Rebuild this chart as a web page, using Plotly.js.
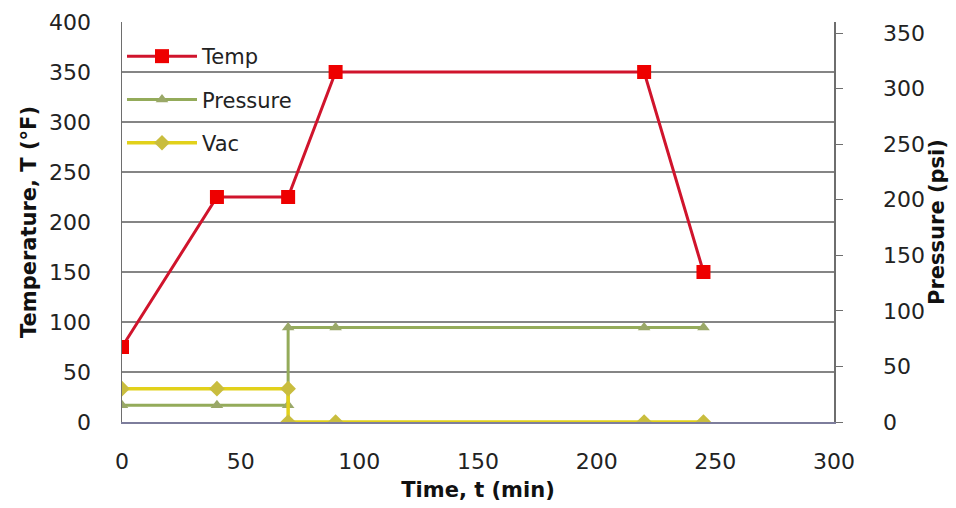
<!DOCTYPE html>
<html>
<head>
<meta charset="utf-8">
<script src="https://cdn.plot.ly/plotly-3.0.1.min.js"></script>
<style>html,body{margin:0;padding:0;background:#fff;}#chart{width:956px;height:508px;}</style>
</head>
<body>
<div id="chart"></div>
<script>
// Data
const tempTime = [0, 40, 70, 90, 220, 245];
const tempValues = [75, 225, 225, 350, 350, 150];

const pressureTime = [0, 40, 70, 70, 90, 220, 245];
const pressureValues = [15, 15, 15, 85, 85, 85, 85];

const vacTime = [0, 40, 70, 70, 90, 220, 245];
const vacValues = [30, 30, 30, 0, 0, 0, 0];

const xTickVals = [0, 50, 100, 150, 200, 250, 300];
const yTickVals = [0, 50, 100, 150, 200, 250, 300, 350, 400];
const y2TickVals = [0, 50, 100, 150, 200, 250, 300, 350];

const FONT = "DejaVu Sans, Verdana, sans-serif";

const traces = [
  {
    x: tempTime, y: tempValues, name: "Temp", type: "scatter", mode: "lines+markers",
    legendgroup: "a",
    line: {color: "#d0142c", width: 3},
    marker: {symbol: "square", size: 14, color: "#ee0000"}
  },
  {
    x: pressureTime, y: pressureValues, name: "Pressure", type: "scatter", mode: "lines+markers",
    yaxis: "y2", legendgroup: "b",
    line: {color: "#94ab5a", width: 3},
    marker: {symbol: "triangle-up", size: 11, color: "#9aa868"}
  },
  {
    x: vacTime, y: vacValues, name: "Vac", type: "scatter", mode: "lines+markers",
    yaxis: "y2", legendgroup: "c",
    line: {color: "#e2d11a", width: 3.5},
    marker: {symbol: "diamond", size: 12, color: "#c9bd3e"}
  }
];

const layout = {
  width: 956, height: 508,
  margin: {l: 122, r: 122, t: 22, b: 86},
  paper_bgcolor: "#ffffff", plot_bgcolor: "#ffffff",
  font: {family: FONT, color: "#222", size: 20},
  showlegend: true,
  legend: {
    x: 0.0, y: 0.965, xanchor: "left", yanchor: "top",
    bgcolor: "rgba(255,255,255,0)", borderwidth: 0,
    font: {family: FONT, size: 21, color: "#222"},
    itemwidth: 70,
    traceorder: "grouped", tracegroupgap: 13
  },
  xaxis: {
    range: [0, 300], tickvals: xTickVals, ticktext: xTickVals.map(String),
    showgrid: false, zeroline: false,
    showline: true, linecolor: "#7d7d9c", linewidth: 1.5,
    ticks: "", ticklabelstandoff: 19,
    tickfont: {family: FONT, size: 22, color: "#222"},
    title: {text: "<b>Time, t (min)</b>", font: {family: FONT, size: 21, color: "#111"}, standoff: 9}
  },
  yaxis: {
    range: [0, 400], tickvals: yTickVals, ticktext: yTickVals.map(String),
    showgrid: true, gridcolor: "#858585", gridwidth: 1.5,
    zeroline: false,
    showline: true, linecolor: "#6e6e6e", linewidth: 1.5,
    ticks: "", ticklabelstandoff: 25,
    tickfont: {family: FONT, size: 22, color: "#222"},
    title: {text: "<b>Temperature, T (°F)</b>", font: {family: FONT, size: 21, color: "#111"}, standoff: 6}
  },
  yaxis2: {
    overlaying: "y", side: "right",
    range: [0, 360], tickvals: y2TickVals, ticktext: y2TickVals.map(String),
    showgrid: false, zeroline: false,
    showline: true, linecolor: "#6e6e6e", linewidth: 1.5,
    ticks: "outside", ticklen: 7, tickcolor: "#6e6e6e", ticklabelstandoff: 36,
    tickfont: {family: FONT, size: 22, color: "#222"},
    title: {text: "<b>Pressure (psi)</b>", font: {family: FONT, size: 21, color: "#111"}, standoff: 2}
  }
};

Plotly.newPlot("chart", traces, layout, {displayModeBar: false, staticPlot: true});
</script>
</body>
</html>
